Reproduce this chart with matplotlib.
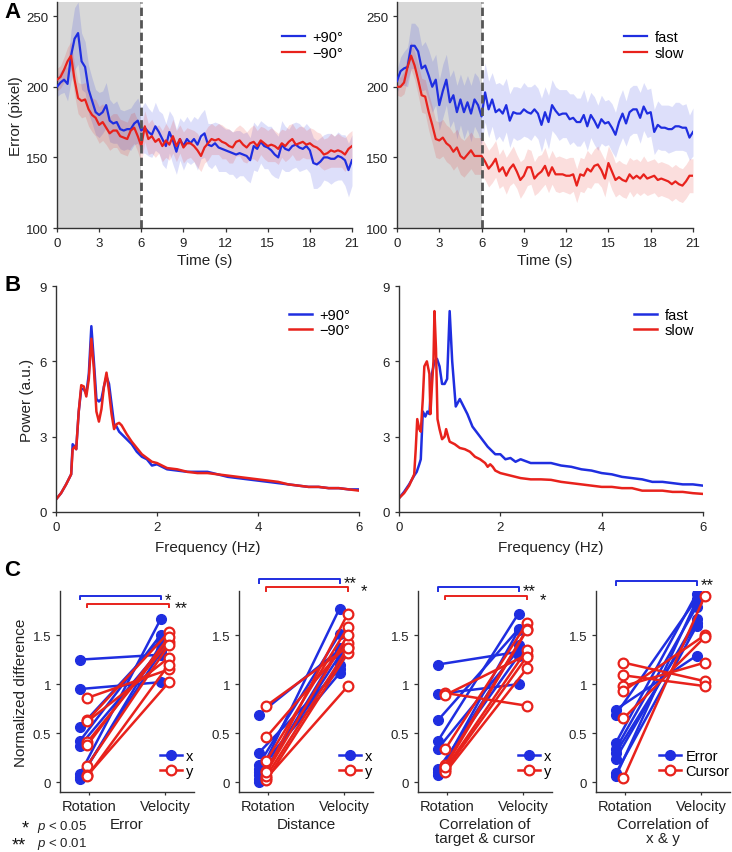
import numpy as np
import matplotlib
matplotlib.use("Agg")
import matplotlib.pyplot as plt
from matplotlib.lines import Line2D

plt.rcParams['font.family'] = ['Liberation Sans', 'DejaVu Sans']
plt.rcParams['mathtext.fontset'] = 'custom'
plt.rcParams['mathtext.it'] = 'Liberation Sans:italic'
plt.rcParams['mathtext.rm'] = 'Liberation Sans'

BLUE = '#1f2ee0'
RED = '#e8221c'
AX = '#333333'

# ---------------- Panel A data (time course, 0.25 s steps) ----------------
time_s = np.arange(0, 21.01, 0.25)

err_pos90 = [200,203,205,202, 222,234,238,218, 214,198,190,182, 180,182,187,176,
             174,175,170,169, 170,170,174,176, 169,171,168,166, 172,168,163,158,
             168,162,154,163, 158,163,160,163, 159,165,167,159, 158,160,157,156,
             155,154,153,152, 153,152,151,148, 158,156,161,158, 157,155,152,150,
             159,156,155,158, 159,157,156,158, 155,146,145,147, 150,150,149,149,
             151,150,148,141, 148]
err_neg90 = [205,207,212,218, 222,205,192,190, 191,184,180,178, 173,175,171,167,
             169,169,165,164, 163,169,171,165, 158,172,163,165, 161,163,158,162,
             159,165,158,163, 157,160,160,158, 155,151,157,160, 163,162,163,161,
             160,158,157,161, 162,159,157,160, 161,158,162,160, 158,159,158,156,
             160,158,161,163, 159,160,161,159, 160,158,157,155, 152,153,155,154,
             155,154,152,156, 158]
sem_pos90 = [7,8,9,12, 18,22,22,20, 18,17,16,16, 16,15,16,15, 14,15,14,14, 14,15,15,16,
             16,18,17,16, 17,15,18,16, 15,17,16,15, 17,16,15,16, 18,16,17,15, 16,15,17,16,
             15,16,15,17, 16,15,17,16, 17,16,15,16, 15,17,16,15, 17,16,15,16, 16,17,15,16,
             16,18,17,17, 16,17,18,16, 17,16,18,19, 18]
sem_neg90 = [8,8,9,10, 10,11,11,12, 12,12,12,13, 13,13,12,12, 12,12,12,12, 12,12,11,11,
             12,11,11,12, 11,10,11,12, 11,12,11,10, 11,11,10,11, 12,11,11,12, 11,10,11,12,
             11,12,11,10, 11,12,11,11, 12,11,10,11, 11,12,11,11, 10,11,12,11, 11,12,11,10,
             11,12,11,12, 11,11,12,11, 12,11,12,11, 11]

err_fast = [204,211,213,214, 229,229,225,213, 215,208,200,205, 187,197,205,189,
            194,182,191,182, 189,181,191,187, 179,196,184,191, 182,184,181,187,
            176,182,181,181, 184,182,181,184, 181,173,182,175, 187,183,180,181,
            181,177,178,175, 175,180,172,180, 176,171,177,174, 175,171,166,175,
            181,174,182,184, 184,178,186,181, 182,168,173,171, 171,170,170,172,
            172,171,171,164, 168]
err_slow = [200,200,203,214, 222,215,205,194, 193,182,173,163, 162,164,160,158,
            154,157,151,149, 152,155,151,151, 151,147,142,145, 149,140,143,137,
            142,145,140,134, 137,143,143,135, 138,140,144,137, 143,138,138,138,
            137,137,138,130, 138,137,142,140, 144,145,141,135, 146,140,134,136,
            134,133,138,135, 137,135,138,135, 136,137,134,135, 134,133,131,133,
            131,130,133,137, 137]
sem_fast = [8,10,12,14, 16,16,17,16, 17,18,18,18, 18,19,18,18, 18,19,18,19, 19,20,19,20,
            20,21,20,19, 20,19,20,19, 19,18,19,18, 19,18,19,18, 18,19,18,19, 18,17,18,17,
            17,18,17,17, 17,18,17,16, 17,16,17,16, 16,17,16,17, 17,16,17,17, 17,18,17,17,
            17,16,17,16, 16,17,16,17, 17,16,17,16, 17]
sem_slow = [6,7,8,9, 10,10,11,12, 12,13,13,13, 13,13,13,13, 13,13,13,13, 13,13,13,13,
            13,13,13,13, 13,12,13,13, 12,13,12,13, 12,13,12,12, 13,12,13,12, 12,12,13,12,
            12,13,12,12, 12,12,13,12, 12,13,12,13, 12,13,12,12, 12,12,12,13, 12,12,13,12,
            12,12,12,12, 12,12,12,12, 12,12,12,12, 12]

# ---------------- Panel B data (power spectra) ----------------
freq_L = [0, 0.1, 0.2, 0.25, 0.3, 0.33, 0.37, 0.4, 0.45, 0.5, 0.55, 0.6, 0.65, 0.7, 0.75,
          0.8, 0.85, 0.9, 0.95, 1.0, 1.05, 1.1, 1.15, 1.2, 1.25, 1.3, 1.4, 1.5, 1.6, 1.7,
          1.8, 1.9, 2.0, 2.2, 2.4, 2.6, 2.8, 3.0, 3.2, 3.4, 3.6, 3.8, 4.0, 4.2, 4.4, 4.6,
          4.8, 5.0, 5.2, 5.4, 5.6, 5.8, 6.0]
pow_pos90 = [0.5, 0.75, 1.1, 1.3, 1.5, 2.7, 2.6, 2.5, 4.0, 4.9, 4.9, 4.7, 5.5, 7.4, 6.0,
             4.5, 4.4, 4.5, 5.0, 5.4, 5.1, 4.3, 3.5, 3.4, 3.2, 3.1, 2.9, 2.7, 2.4, 2.2,
             2.1, 1.85, 1.9, 1.7, 1.65, 1.6, 1.6, 1.6, 1.5, 1.4, 1.35, 1.3, 1.25, 1.2, 1.15, 1.1,
             1.05, 1.0, 1.0, 0.95, 0.95, 0.9, 0.9]
pow_neg90 = [0.5, 0.75, 1.1, 1.3, 1.5, 2.5, 2.6, 2.5, 4.0, 5.05, 5.0, 4.6, 5.3, 6.9, 5.7,
             4.0, 3.6, 4.1, 5.0, 5.55, 4.8, 3.9, 3.3, 3.5, 3.55, 3.45, 3.1, 2.8, 2.55, 2.3,
             2.15, 2.0, 1.95, 1.75, 1.7, 1.6, 1.55, 1.55, 1.5, 1.45, 1.4, 1.35, 1.3, 1.25, 1.2, 1.1,
             1.05, 1.0, 1.0, 0.95, 0.95, 0.9, 0.85]

freq_fast = [0, 0.1, 0.2, 0.3, 0.35, 0.4, 0.43, 0.47, 0.52, 0.56, 0.6, 0.65, 0.7, 0.75, 0.8,
             0.85, 0.9, 0.95, 1.0, 1.05, 1.12, 1.2, 1.3, 1.35, 1.45, 1.6, 1.75, 1.9, 2.0,
             2.1, 2.2, 2.3, 2.4, 2.6, 2.8, 3.0, 3.2, 3.4, 3.6, 3.8, 4.0, 4.2, 4.4, 4.6, 4.8,
             5.0, 5.2, 5.4, 5.6, 5.8, 6.0]
pow_fast = [0.55, 0.8, 1.1, 1.45, 1.6, 1.9, 2.1, 4.0, 3.8, 4.0, 3.9, 5.5, 6.0, 6.1, 5.8,
            5.1, 5.1, 5.3, 8.0, 6.0, 4.2, 4.5, 4.1, 3.9, 3.4, 3.0, 2.6, 2.3, 2.3,
            2.1, 2.15, 2.0, 2.1, 1.95, 1.95, 1.95, 1.85, 1.8, 1.7, 1.65, 1.55, 1.5, 1.4, 1.35, 1.3,
            1.2, 1.2, 1.15, 1.1, 1.1, 1.05]
freq_slow = [0, 0.1, 0.2, 0.3, 0.33, 0.36, 0.4, 0.43, 0.47, 0.5, 0.55, 0.6, 0.62, 0.65, 0.68,
             0.7, 0.73, 0.76, 0.8, 0.85, 0.9, 0.93, 0.97, 1.0, 1.1, 1.2, 1.3, 1.4, 1.5, 1.6,
             1.7, 1.75, 1.8, 1.85, 1.9, 2.0, 2.2, 2.4, 2.6, 2.8, 3.0, 3.2, 3.4, 3.6, 3.8, 4.0,
             4.2, 4.4, 4.6, 4.8, 5.0, 5.2, 5.4, 5.6, 5.8, 6.0]
pow_slow = [0.55, 0.75, 1.05, 1.5, 2.5, 3.7, 3.3, 3.2, 4.5, 5.8, 6.0, 5.5, 3.9, 5.0, 6.0,
            8.0, 6.5, 3.7, 3.3, 2.9, 3.0, 3.3, 3.0, 2.8, 2.7, 2.55, 2.5, 2.4, 2.2, 2.1,
            1.95, 1.8, 1.9, 1.8, 1.65, 1.55, 1.45, 1.35, 1.3, 1.3, 1.28, 1.2, 1.15, 1.1, 1.05, 1.0,
            1.0, 0.95, 0.95, 0.85, 0.85, 0.85, 0.8, 0.8, 0.75, 0.72]

# ---------------- Panel C data (normalized difference) ----------------
conditions = ['Rotation', 'Velocity']
c_titles = ['Error', 'Distance', 'Correlation of\ntarget & cursor', 'Correlation of\nx & y']
c_legends = [('x', 'y'), ('x', 'y'), ('x', 'y'), ('Error', 'Cursor')]

err_x_rot = [1.25, 0.95, 0.56, 0.42, 0.37, 0.08, 0.03, 0.05]
err_x_vel = [1.30, 1.02, 1.45, 1.50, 1.35, 1.66, 1.40, 1.32]
err_y_rot = [0.86, 0.63, 0.62, 0.41, 0.38, 0.17, 0.07, 0.06]
err_y_vel = [1.15, 1.53, 1.27, 1.43, 1.48, 1.40, 1.02, 1.20]

dist_x_rot = [0.69, 0.30, 0.18, 0.13, 0.07, 0.03, 0.00, 0.10]
dist_x_vel = [1.35, 1.15, 1.51, 1.11, 1.77, 1.29, 1.37, 1.20]
dist_y_rot = [0.78, 0.46, 0.22, 0.11, 0.04, 0.02, 0.06, 0.10]
dist_y_vel = [1.38, 1.42, 1.58, 1.72, 0.98, 1.32, 1.37, 1.50]

ctc_x_rot = [1.20, 0.90, 0.63, 0.42, 0.34, 0.13, 0.07, 0.10]
ctc_x_vel = [1.33, 1.00, 1.56, 1.72, 1.35, 1.29, 1.55, 1.40]
ctc_y_rot = [0.91, 0.89, 0.34, 0.18, 0.14, 0.12, 0.10, 0.16]
ctc_y_vel = [0.78, 1.30, 1.62, 1.56, 1.35, 1.28, 1.16, 1.55]

cxy_err_rot = [0.74, 0.69, 0.40, 0.34, 0.24, 0.09, 0.06, 0.30]
cxy_err_vel = [1.29, 1.87, 1.92, 1.79, 1.66, 1.59, 1.85, 1.62]
cxy_cur_rot = [1.22, 1.09, 0.98, 0.93, 0.65, 0.04]
cxy_cur_vel = [1.03, 0.98, 1.22, 1.50, 1.48, 1.90]

# significance: (blue stars, red stars)
sig_labels = [('*', '**'), ('**', '*'), ('**', '*'), ('**', None)]

# ---------------- figure ----------------
W, H = 732, 853
fig = plt.figure(figsize=(W / 100, H / 100), dpi=100)


def add_ax(x0, y0, x1, y1):
    return fig.add_axes([x0 / W, 1 - y1 / H, (x1 - x0) / W, (y1 - y0) / H])


def style(ax):
    for s in ['top', 'right']:
        ax.spines[s].set_visible(False)
    for s in ['left', 'bottom']:
        ax.spines[s].set_color(AX)
        ax.spines[s].set_linewidth(1.0)
    ax.tick_params(colors=AX, labelcolor='#222222', labelsize=9.5, length=3, width=0.9)


TICK_FS = 9.5
LAB_FS = 11

# ----- A -----
pairsA = [((err_pos90, sem_pos90, '+90°'), (err_neg90, sem_neg90, '\u221290°')),
          ((err_fast, sem_fast, 'fast'), (err_slow, sem_slow, 'slow'))]
boxesA = [(57, 3, 352, 229), (397, 3, 693, 229)]
for k, (box, pair) in enumerate(zip(boxesA, pairsA)):
    ax = add_ax(*box)
    style(ax)
    ax.axvspan(0, 6, color='#d8d8d8', zorder=0, lw=0)
    for (vals, sem, lab), col in zip(pair, [BLUE, RED]):
        v = np.array(vals, float)
        s = np.array(sem, float)
        ax.fill_between(time_s, v - s, v + s, color=col, alpha=0.15, lw=0, zorder=1)
    for (vals, sem, lab), col in zip(pair, [BLUE, RED]):
        ax.plot(time_s, vals, color=col, lw=1.6, label=lab, zorder=3)
    ax.axvline(6, color='#555555', ls=(0, (3, 1.5)), lw=2.0, zorder=4)
    ax.set_xlim(0, 21)
    ax.set_ylim(100, 260)
    ax.set_xticks(range(0, 22, 3))
    ax.set_yticks([100, 150, 200, 250])
    ax.set_xlabel('Time (s)', fontsize=LAB_FS, labelpad=3, color='#222222')
    if k == 0:
        ax.set_ylabel('Error (pixel)', fontsize=LAB_FS, labelpad=2, color='#222222')
    ax.legend(loc='upper right', bbox_to_anchor=(0.99, 0.9), frameon=False,
              fontsize=10.5, handlelength=1.6, handletextpad=0.5, labelspacing=0.1,
              borderaxespad=0)

# ----- B -----
seriesB = [((freq_L, pow_pos90, '+90°'), (freq_L, pow_neg90, '\u221290°')),
           ((freq_fast, pow_fast, 'fast'), (freq_slow, pow_slow, 'slow'))]
boxesB = [(56, 287, 359, 513), (399, 287, 703, 513)]
for k, (box, pair) in enumerate(zip(boxesB, seriesB)):
    ax = add_ax(*box)
    style(ax)
    for (f, p, lab), col in zip(pair, [BLUE, RED]):
        ax.plot(f, p, color=col, lw=1.8, label=lab)
    ax.set_xlim(0, 6)
    ax.set_ylim(0, 9)
    ax.set_xticks([0, 2, 4, 6])
    ax.set_yticks([0, 3, 6, 9])
    ax.set_xlabel('Frequency (Hz)', fontsize=LAB_FS, labelpad=5, color='#222222')
    if k == 0:
        ax.set_ylabel('Power (a.u.)', fontsize=LAB_FS, labelpad=4, color='#222222')
    ax.legend(loc='upper right', bbox_to_anchor=(0.99, 0.93), frameon=False,
              fontsize=10.5, handlelength=1.6, handletextpad=0.5, labelspacing=0.1,
              borderaxespad=0)

# ----- C -----
dataC = [(err_x_rot, err_x_vel, err_y_rot, err_y_vel),
         (dist_x_rot, dist_x_vel, dist_y_rot, dist_y_vel),
         (ctc_x_rot, ctc_x_vel, ctc_y_rot, ctc_y_vel),
         (cxy_err_rot, cxy_err_vel, cxy_cur_rot, cxy_cur_vel)]
lefts = [60, 239, 418, 596]
bracket_y = [(1.90, 1.82), (2.07, 1.99), (1.99, 1.90), (2.05, None)]
star_dx = [(0.05, 0.08), (0.05, 0.17), (0.05, 0.17), (0.05, 0.05)]
POS_B = (0.88, 1.94)
POS_R = (0.98, 2.05)
for i in range(4):
    ax = add_ax(lefts[i], 592, lefts[i] + 134, 793)
    style(ax)
    xr, xv, yr, yv = dataC[i]
    for a, b in zip(xr, xv):
        ax.plot(POS_B, [a, b], color=BLUE, lw=1.8, zorder=2)
    ax.plot([POS_B[0]] * len(xr), xr, 'o', color=BLUE, ms=7, zorder=3)
    ax.plot([POS_B[1]] * len(xv), xv, 'o', color=BLUE, ms=7, zorder=3)
    for a, b in zip(yr, yv):
        ax.plot(POS_R, [a, b], color=RED, lw=1.8, zorder=4)
    ax.plot([POS_R[0]] * len(yr), yr, 'o', mfc='white', mec=RED, mew=1.6, ms=7, zorder=5)
    ax.plot([POS_R[1]] * len(yv), yv, 'o', mfc='white', mec=RED, mew=1.6, ms=7, zorder=5)
    ax.set_xlim(0.62, 2.38)
    ax.set_ylim(-0.1, 1.95)
    ax.set_xticks([1, 2])
    ax.set_xticklabels(conditions, fontsize=10.5)
    ax.set_yticks([0, 0.5, 1, 1.5])
    ax.set_yticklabels(['0', '0.5', '1', '1.5'], fontsize=TICK_FS)
    ax.tick_params(axis='x', length=2, pad=3)
    ax.set_xlabel(c_titles[i], fontsize=LAB_FS, labelpad=3, color='#222222',
                  linespacing=1.0)
    if i == 0:
        ax.set_ylabel('Normalized difference', fontsize=LAB_FS, labelpad=3, color='#222222')
    # brackets
    for (pos, yb, st, col, dx) in [(POS_B, bracket_y[i][0], sig_labels[i][0], BLUE, star_dx[i][0]),
                                   (POS_R, bracket_y[i][1], sig_labels[i][1], RED, star_dx[i][1])]:
        if yb is None:
            continue
        ax.plot([pos[0], pos[0], pos[1], pos[1]], [yb - 0.035, yb, yb, yb - 0.035],
                color=col, lw=1.4, clip_on=False, zorder=6)
        ax.text(pos[1] + dx, yb - 0.035, st, fontsize=12, color='#111111',
                ha='left', va='center', clip_on=False)
    h1 = Line2D([], [], color=BLUE, marker='o', ms=7, lw=1.8)
    h2 = Line2D([], [], color=RED, marker='o', ms=7, lw=1.8, mfc='white', mew=1.6)
    ax.legend([h1, h2], list(c_legends[i]), loc='lower right',
              bbox_to_anchor=(1.04, 0.04), frameon=False, fontsize=10.5,
              handlelength=1.5, handletextpad=0.3, labelspacing=0.1, borderaxespad=0)

# panel letters
fig.text(4 / W, 1 - 18 / H, 'A', fontsize=16, fontweight='bold')
fig.text(4 / W, 1 - 291 / H, 'B', fontsize=16, fontweight='bold')
fig.text(4 / W, 1 - 576 / H, 'C', fontsize=16, fontweight='bold')

# footnote
fig.text(22 / W, 1 - 833 / H, '*', fontsize=13, color='#111111')
fig.text(37 / W, 1 - 830 / H, '$\\it{p}$ < 0.05', fontsize=9.5, color='#222222')
fig.text(12 / W, 1 - 850 / H, '**', fontsize=13, color='#111111')
fig.text(37 / W, 1 - 847 / H, '$\\it{p}$ < 0.01', fontsize=9.5, color='#222222')

fig.savefig('out.png', dpi=100)
